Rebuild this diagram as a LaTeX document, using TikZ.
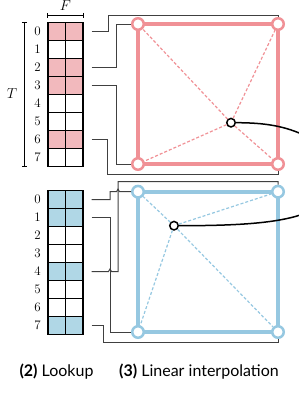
\documentclass[tikz,border=0pt]{standalone}
\usepackage{fontspec}
\usetikzlibrary{arrows.meta, backgrounds, calc}
\newfontfamily\labelfont{Lato}

\definecolor{redline}{HTML}{F09196}
\definecolor{redcell}{HTML}{F2B9BD}
\definecolor{blueline}{HTML}{96C8E1}
\definecolor{bluecell}{HTML}{B0D7E6}
\definecolor{wiregray}{HTML}{404040}

\tikzset{
    cell/.style={draw, line width=1.2pt, minimum width=17.5pt, minimum height=18pt, inner sep=0pt},
    idx/.style={font=\fontsize{13}{15}\selectfont, inner sep=0pt},
    dimlab/.style={font=\fontsize{14}{16}\selectfont, inner sep=0pt},
    corner/.style={circle, draw=#1, fill=white, line width=2.5pt, minimum size=11.5pt, inner sep=0pt},
    probe/.style={circle, draw, fill=white, line width=1.5pt, minimum size=8.5pt, inner sep=0pt},
    side/.style={draw=#1, line width=4pt},
    diag/.style={draw=#1, line width=1.2pt, dash pattern=on 3pt off 2pt},
    wire/.style={draw=wiregray, line width=1pt},
    caption/.style={font=\labelfont\fontsize{16}{18}\selectfont, anchor=base, inner sep=0pt},
}

\begin{document}
\begin{tikzpicture}[x=1pt, y=-1pt, >=Stealth]
    \useasboundingbox (0,0) rectangle (298,394);

    % Tables
    \foreach \r/\c in {0/redcell, 1/white, 2/redcell, 3/redcell, 4/white, 5/white, 6/redcell, 7/white} {
        \node[cell, fill=\c] (a\r-l) at (56.75, 31.5+18*\r) {};
        \node[cell, fill=\c] (a\r-r) at (74.25, 31.5+18*\r) {};
        \node[idx] (a\r-n) at (37.5, 31.5+18*\r) {\r};
    }
    \foreach \r/\c in {0/bluecell, 1/bluecell, 2/white, 3/white, 4/bluecell, 5/white, 6/white, 7/bluecell} {
        \node[cell, fill=\c] (b\r-l) at (56.75, 199.5+18*\r) {};
        \node[cell, fill=\c] (b\r-r) at (74.25, 199.5+18*\r) {};
        \node[idx] (b\r-n) at (37.5, 199.5+18*\r) {\r};
    }

    % Dimensions
    \node[dimlab] (tlab) at (12, 94) {$T$};
    \node[dimlab] (flab) at (65.5, 6) {$F$};
    \draw[{Bar[width=5pt]}-{Bar[width=5pt]}, line width=0.8pt]
        ([xshift=-23pt]a0-l.north west) -- ([xshift=-23pt]a7-l.south west);
    \draw[{Bar[width=5pt]}-{Bar[width=5pt]}, line width=0.8pt]
        ([yshift=6.5pt]a0-l.north west) -- ([yshift=6.5pt]a0-r.north east);

    % Corners and query points
    \node[corner=redline] (ra) at (138, 24) {};
    \node[corner=redline] (rb) at (278, 24) {};
    \node[corner=redline] (rc) at (138, 164) {};
    \node[corner=redline] (rd) at (278, 164) {};
    \node[probe] (rp) at (231, 122.7) {};
    \node[corner=blueline] (ba) at (138, 191.7) {};
    \node[corner=blueline] (bb) at (278, 191.7) {};
    \node[corner=blueline] (bc) at (138, 332) {};
    \node[corner=blueline] (bd) at (278, 332) {};
    \node[probe] (bp) at (174, 225.7) {};
    \coordinate (rq) at (306, 136);
    \coordinate (bq) at (306, 213);

    \begin{scope}[on background layer]
        \draw[side=redline] (ra.center) -- (rb.center) -- (rd.center) -- (rc.center) -- cycle;
        \draw[side=blueline] (ba.center) -- (bb.center) -- (bd.center) -- (bc.center) -- cycle;
    \end{scope}
    \foreach \n in {ra, rb, rc, rd} \draw[diag=redline] (rp) -- (\n);
    \foreach \n in {ba, bb, bc, bd} \draw[diag=blueline] (bp) -- (\n);

    % Outputs
    \draw[line width=1.5pt] (rp) .. controls (265, 122.7) and (285, 126) .. (rq);
    \draw[line width=1.5pt] (bp) .. controls (240, 225.7) and (280, 223) .. (bq);

    % Lookup wires
    \draw[wire] ([xshift=8pt]a0-r.east) -| ([xshift=-30pt, yshift=9pt]ra.center) -| (rb);
    \draw[wire] ([xshift=8pt]a2-r.east) -| ([xshift=-22pt]ra.center) -- (ra);
    \draw[wire] ([xshift=8pt]a3-r.east) -| ([xshift=-22pt]rc.center) -- (rc);
    \draw[wire] ([xshift=8pt]a6-r.east) -| ([xshift=-31pt, yshift=-10pt]rc.center) -| (rd);

    \draw[wire] ([xshift=8pt]b0-r.east) -| ([xshift=-28pt]ba.center) -- ([xshift=-21.5pt]ba.center)
        -- ++(1.5, -2.5) -- ++(1.5, 2.5) -- (ba);
    \draw[wire] ([xshift=8pt]b1-r.east) -| ([xshift=-28pt]bc.center) -- (bc);
    \draw[wire] ([xshift=8pt]b4-r.east) -- ($(ba.center |- b4-r.east)+(-29.5, 0)$)
        -- ++(1.5, -2.5) -- ++(1.5, 2.5) -- ($(ba.center |- b4-r.east)+(-20, 0)$)
        |- ([yshift=10pt]bb.center) -- (bb);
    \draw[wire] ([xshift=8pt]b7-r.east) -| ([xshift=-35pt, yshift=-10pt]bc.center) -| (bd);

    % Captions
    \node[caption] (lookup) at (56.5, 376.7) {\textbf{(2)} Lookup};
    \node[caption] (interp) at (199, 376.7) {\textbf{(3)} Linear interpolation};
\end{tikzpicture}
\end{document}
